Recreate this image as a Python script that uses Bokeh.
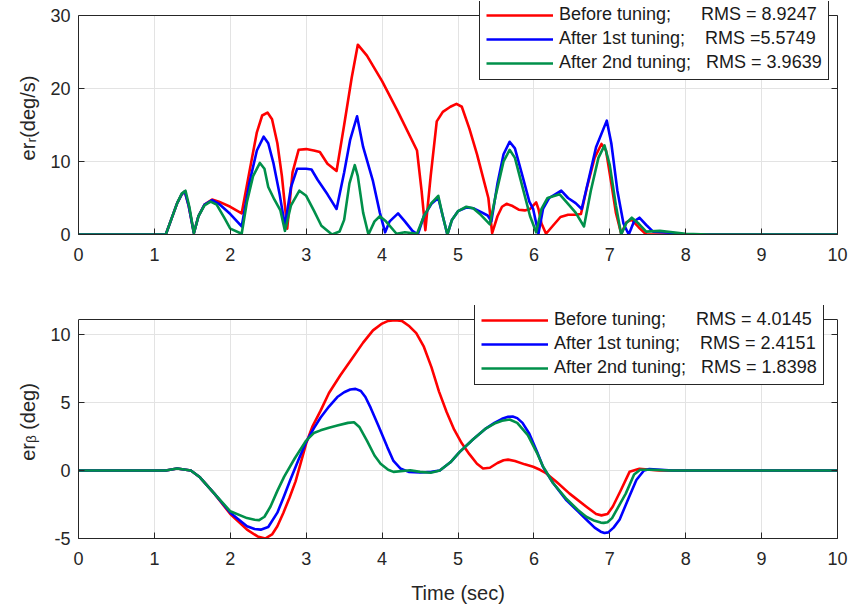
from bokeh.plotting import figure
from bokeh.models import (Legend, LegendItem, FixedTicker, LinearAxis, Range1d, Span)
from bokeh.layouts import column
from bokeh.embed import file_html
from bokeh.resources import INLINE

# ---------------- data ----------------
x_ticks = [0, 1, 2, 3, 4, 5, 6, 7, 8, 9, 10]
top_y_ticks = [0, 10, 20, 30]
bot_y_ticks = [-5, 0, 5, 10]
top_y_lim = (0, 30)
bot_y_lim = (-5, 11.1)

top_labels = ["Before tuning;\u00a0\u00a0\u00a0\u00a0\u00a0\u00a0RMS = 8.9247",
              "After 1st tuning;\u00a0\u00a0\u00a0\u00a0RMS =5.5749",
              "After 2nd tuning;\u00a0\u00a0\u00a0RMS = 3.9639"]
bot_labels = ["Before tuning;\u00a0\u00a0\u00a0\u00a0\u00a0\u00a0RMS = 4.0145",
              "After 1st tuning;\u00a0\u00a0\u00a0\u00a0RMS = 2.4151",
              "After 2nd tuning;\u00a0\u00a0\u00a0RMS = 1.8398"]

# top: er_r (deg/s)
r_before_t = [0, 1.15, 1.22, 1.30, 1.36, 1.40, 1.45, 1.52, 1.58, 1.66, 1.76, 1.85, 2.00, 2.15, 2.25, 2.35, 2.42,
              2.49, 2.55, 2.62, 2.68, 2.75, 2.82, 2.90, 3.00, 3.10, 3.18, 3.28, 3.40, 3.50, 3.60, 3.68, 3.80,
              4.00, 4.20, 4.46, 4.52, 4.57, 4.64, 4.72, 4.80, 4.90, 4.98, 5.05, 5.15, 5.25, 5.35, 5.40, 5.45,
              5.52, 5.58, 5.64, 5.72, 5.80, 5.88, 5.95, 6.03, 6.06, 6.10, 6.16, 6.25, 6.35, 6.45, 6.55, 6.62,
              6.70, 6.80, 6.89, 6.95, 7.02, 7.08, 7.15, 7.22, 7.29, 7.38, 7.48, 10]
r_before_v = [0, 0, 2.0, 4.3, 5.5, 5.9, 4.0, 0.2, 2.5, 4.1, 4.8, 4.5, 3.8, 2.9, 8.5, 14.0, 16.3,
              16.7, 15.8, 12.5, 8.0, 0.8, 8.5, 11.6, 11.7, 11.5, 11.3, 9.7, 8.7, 15.0, 21.5, 26.0, 24.5,
              21.0, 17.0, 11.5, 6.0, 0.6, 8.0, 15.5, 16.8, 17.5, 17.9, 17.5, 14.5, 11.0, 7.0, 5.0, 0.2,
              2.5, 3.8, 4.2, 3.9, 3.4, 3.3, 3.5, 4.4, 3.5, 1.5, 0.1, 1.2, 2.4, 2.7, 2.7, 2.8,
              6.5, 10.5, 12.4, 11.5, 7.0, 3.0, 0.1, 1.7, 2.0, 1.0, 0.0, 0]

r_first_t = [0, 1.15, 1.22, 1.30, 1.36, 1.40, 1.45, 1.52, 1.58, 1.66, 1.76, 1.85, 2.00, 2.15, 2.25, 2.35, 2.44,
             2.50, 2.57, 2.65, 2.72, 2.80, 2.88, 3.00, 3.07, 3.15, 3.28, 3.40, 3.50, 3.58, 3.67, 3.75, 3.88,
             3.97, 4.04, 4.10, 4.21, 4.30, 4.40, 4.47, 4.55, 4.65, 4.74, 4.80, 4.86, 4.92, 5.00, 5.11, 5.20,
             5.30, 5.39, 5.44, 5.52, 5.60, 5.68, 5.75, 5.85, 5.94, 5.99, 6.06, 6.12, 6.20, 6.28, 6.36, 6.45,
             6.55, 6.63, 6.72, 6.82, 6.96, 7.02, 7.10, 7.18, 7.25, 7.32, 7.39, 7.48, 7.57, 7.70, 7.83, 8.0, 10]
r_first_v = [0, 0, 2.0, 4.3, 5.5, 5.9, 4.0, 0.2, 2.5, 4.1, 4.7, 4.2, 2.8, 1.1, 7.0, 11.5, 13.4,
             12.5, 9.7, 5.5, 1.2, 6.5, 9.0, 9.0, 8.9, 7.5, 5.5, 3.5, 8.5, 13.0, 16.2, 12.0, 7.3,
             3.0, 0.3, 1.8, 2.9, 1.8, 0.5, 0.0, 2.5, 4.2, 5.0, 2.5, 0.0, 2.0, 3.2, 3.7, 3.6,
             3.1, 2.6, 1.8, 7.0, 11.0, 12.7, 11.8, 8.0, 4.5, 3.5, 0.1, 3.5, 5.0, 5.5, 6.0, 5.0,
             4.3, 3.5, 7.5, 12.0, 15.6, 12.5, 6.0, 1.5, 0.0, 1.8, 2.3, 1.3, 0.4, 0.3, 0.2, 0.0, 0]

r_second_t = [0, 1.15, 1.22, 1.30, 1.36, 1.41, 1.46, 1.52, 1.58, 1.66, 1.74, 1.82, 1.92, 2.00, 2.15, 2.22, 2.30,
              2.39, 2.45, 2.50, 2.58, 2.66, 2.72, 2.80, 2.91, 3.00, 3.10, 3.20, 3.34, 3.44, 3.50, 3.57, 3.64,
              3.68, 3.75, 3.82, 3.90, 3.97, 4.05, 4.19, 4.30, 4.46, 4.55, 4.65, 4.74, 4.80, 4.86, 4.92, 5.00,
              5.11, 5.20, 5.30, 5.42, 5.50, 5.60, 5.68, 5.75, 5.85, 5.95, 6.03, 6.10, 6.18, 6.34, 6.45, 6.55,
              6.66, 6.75, 6.85, 6.93, 7.00, 7.08, 7.15, 7.22, 7.29, 7.38, 7.48, 7.66, 8.0, 8.3, 10]
r_second_v = [0, 0, 2.0, 4.3, 5.6, 6.0, 3.8, 0.2, 2.5, 4.0, 4.5, 4.1, 2.3, 0.8, 0.1, 4.5, 8.0,
              9.8, 9.0, 6.5, 4.8, 3.3, 0.5, 4.0, 6.0, 5.3, 3.3, 1.2, 0.0, 0.4, 2.0, 7.0, 9.5,
              8.0, 3.0, 0.0, 1.8, 2.5, 1.8, 0.1, 0.3, 0.1, 2.5, 4.3, 5.3, 2.5, 0.0, 2.0, 3.2,
              3.8, 3.6, 2.7, 1.4, 5.5, 10.0, 11.6, 10.5, 6.5, 2.5, 0.3, 3.5, 5.0, 5.5, 4.2, 3.0,
              1.1, 6.0, 10.5, 12.2, 9.5, 4.0, 0.0, 1.6, 2.3, 1.5, 0.4, 0.5, 0.1, 0.0, 0]

# bottom: er_beta (deg)
b_before_t = [0, 1.15, 1.30, 1.48, 1.60, 1.79, 2.00, 2.22, 2.36, 2.46, 2.55, 2.62, 2.70, 2.78, 2.86, 2.93,
              3.00, 3.08, 3.19, 3.30, 3.45, 3.60, 3.75, 3.88, 4.00, 4.08, 4.17, 4.26, 4.36, 4.45, 4.55, 4.65,
              4.75, 4.85, 4.95, 5.05, 5.15, 5.25, 5.33, 5.42, 5.52, 5.60, 5.66, 5.75, 5.88, 5.99, 6.08, 6.16,
              6.30, 6.47, 6.70, 6.82, 6.89, 6.97, 7.04, 7.15, 7.26, 7.39, 7.65, 10]
b_before_v = [0, 0, 0.15, 0, -0.5, -1.7, -3.2, -4.35, -4.85, -5.0, -4.7, -4.1, -3.1, -2.0, -0.8, 0.6,
              2.0, 3.2, 4.4, 5.7, 7.0, 8.2, 9.4, 10.3, 10.8, 11.0, 11.05, 11.0, 10.6, 10.1, 9.1, 7.6,
              5.8, 4.3, 3.0, 2.0, 1.2, 0.5, 0.15, 0.2, 0.55, 0.75, 0.8, 0.7, 0.45, 0.27, 0.05, -0.2,
              -0.85, -1.7, -2.7, -3.2, -3.3, -3.2, -2.65, -1.4, -0.1, 0.12, 0, 0]

b_first_t = [0, 1.15, 1.30, 1.48, 1.60, 1.79, 2.00, 2.22, 2.32, 2.40, 2.50, 2.62, 2.70, 2.79, 2.90, 3.00,
             3.10, 3.19, 3.30, 3.41, 3.50, 3.58, 3.65, 3.72, 3.78, 3.85, 3.95, 4.07, 4.15, 4.24, 4.35, 4.50,
             4.65, 4.76, 4.90, 5.02, 5.20, 5.37, 5.48, 5.58, 5.66, 5.72, 5.78, 5.85, 5.94, 6.04, 6.12, 6.25,
             6.43, 6.58, 6.69, 6.80, 6.88, 6.93, 6.98, 7.05, 7.13, 7.25, 7.35, 7.45, 7.52, 7.83, 10]
b_first_v = [0, 0, 0.15, 0, -0.5, -1.7, -3.1, -4.1, -4.3, -4.35, -4.15, -3.1, -2.0, -0.7, 0.8, 2.1,
             3.1, 3.9, 4.7, 5.4, 5.75, 5.95, 6.0, 5.85, 5.4, 4.6, 3.3, 1.7, 0.7, 0.15, -0.1, -0.15,
             -0.1, 0.0, 0.6, 1.35, 2.3, 3.1, 3.5, 3.8, 3.95, 3.97, 3.85, 3.5, 2.7, 1.4, 0.27, -0.9,
             -2.2, -3.0, -3.6, -4.2, -4.5, -4.6, -4.55, -4.2, -3.6, -2.0, -0.7, 0.0, 0.1, 0, 0]

b_second_t = [0, 1.15, 1.30, 1.48, 1.60, 1.79, 2.00, 2.22, 2.32, 2.38, 2.45, 2.53, 2.62, 2.71, 2.85, 3.00,
              3.10, 3.19, 3.30, 3.41, 3.55, 3.63, 3.70, 3.80, 3.90, 3.98, 4.08, 4.15, 4.37, 4.50, 4.64, 4.76,
              4.90, 5.02, 5.20, 5.37, 5.48, 5.58, 5.68, 5.78, 5.92, 6.04, 6.12, 6.25, 6.43, 6.58, 6.69, 6.80,
              6.88, 6.92, 6.97, 7.03, 7.10, 7.21, 7.32, 7.40, 7.55, 7.8, 10]
b_second_v = [0, 0, 0.15, 0, -0.5, -1.7, -3.0, -3.5, -3.62, -3.65, -3.4, -2.65, -1.5, -0.45, 0.9, 2.2,
              2.75, 2.95, 3.15, 3.3, 3.5, 3.55, 3.2, 2.2, 1.1, 0.5, 0.05, -0.1, 0.02, -0.1, -0.17, 0.0,
              0.6, 1.35, 2.3, 3.1, 3.45, 3.65, 3.75, 3.5, 2.6, 1.3, 0.3, -0.9, -2.1, -2.9, -3.4, -3.7,
              -3.83, -3.85, -3.8, -3.5, -2.8, -1.7, -0.3, 0.05, 0.05, 0, 0]

colors = ["#ff0000", "#0000ff", "#00904a"]
FONT = "Liberation Sans"
DARK = "#262626"
BOX_H = 219      # visible axes box height (px)
HEADROOM = 14    # extra px above the box where the legend overhangs


def make_fig(height, border_top, border_bottom, y_lim, y_ticks, y_label, x_label):
    y0, y1 = y_lim
    px_per_unit = BOX_H / (y1 - y0)
    y_top = y1 + HEADROOM / px_per_unit
    p = figure(width=850, height=height, output_backend="svg", toolbar_location=None,
               x_range=Range1d(0, 10), y_range=Range1d(y0, y_top),
               min_border_left=78, min_border_right=13,
               min_border_top=border_top, min_border_bottom=border_bottom)
    p.background_fill_color = "white"
    p.border_fill_color = "white"
    p.outline_line_color = None
    for ax, ticks in ((p.xaxis[0], x_ticks), (p.yaxis[0], y_ticks)):
        ax.ticker = FixedTicker(ticks=ticks)
        ax.major_tick_in = 6
        ax.major_tick_out = 0
        ax.minor_tick_line_color = None
        ax.axis_line_color = DARK
        ax.major_tick_line_color = DARK
        ax.major_label_text_font = FONT
        ax.major_label_text_font_size = "18px"
        ax.major_label_text_color = DARK
        ax.axis_label_text_font = FONT
        ax.axis_label_text_font_size = "20px"
        ax.axis_label_text_font_style = "normal"
        ax.axis_label_text_color = DARK
    p.yaxis[0].bounds = (y0, y1)
    p.yaxis[0].major_label_overrides = {t: str(t) for t in y_ticks}
    p.xaxis[0].major_label_standoff = 13
    p.yaxis[0].major_label_standoff = 8
    p.yaxis[0].axis_label = y_label
    p.yaxis[0].axis_label_standoff = 8
    if x_label:
        p.xaxis[0].axis_label = x_label
        p.xaxis[0].axis_label_standoff = 14
    # mirrored ticks on the right (labels not painted)
    rax = LinearAxis(ticker=FixedTicker(ticks=y_ticks), bounds=(y0, y1),
                     major_tick_in=6, major_tick_out=0,
                     minor_tick_line_color=None, axis_line_color=DARK,
                     major_tick_line_color=DARK, major_label_text_font_size="1px",
                     major_label_text_color=None, major_label_standoff=0)
    p.add_layout(rax, "right")
    p.xgrid.ticker = FixedTicker(ticks=x_ticks)
    p.ygrid.ticker = FixedTicker(ticks=y_ticks)
    p.xgrid.cross_bounds = (y0, y1)
    p.grid.grid_line_color = "#e3e3e3"
    p.grid.grid_line_width = 1
    # top edge of the axes box
    p.add_layout(Span(location=y1, dimension="width", line_color=DARK, line_width=1))
    return p


def add_legend(p, renderers, labels, loc):
    items = [LegendItem(label=l, renderers=[r]) for l, r in zip(labels, renderers)]
    lg = Legend(items=items, location=loc, orientation="vertical",
                label_text_font=FONT, label_text_font_size="18px", label_text_color="#1a1a1a",
                glyph_width=67, glyph_height=20, label_height=20, label_standoff=6,
                padding=6, spacing=3, margin=0,
                border_line_color=DARK, border_line_width=1, border_line_alpha=1,
                background_fill_color="white", background_fill_alpha=1)
    p.add_layout(lg, "center")


p1 = make_fig(300, 1, 66, top_y_lim, top_y_ticks, "er\u1d63(deg/s)", None)
rs1 = []
for (t, v), c in zip([(r_before_t, r_before_v), (r_first_t, r_first_v), (r_second_t, r_second_v)], colors):
    rs1.append(p1.line(t, v, line_color=c, line_width=2.6, line_join="round"))
add_legend(p1, rs1, top_labels, (401, 154))

p2 = make_fig(307, 5, 69, bot_y_lim, bot_y_ticks, "er\u1d66 (deg)", "Time (sec)")
rs2 = []
for (t, v), c in zip([(b_before_t, b_before_v), (b_first_t, b_first_v), (b_second_t, b_second_v)], colors):
    rs2.append(p2.line(t, v, line_color=c, line_width=2.6, line_join="round"))
add_legend(p2, rs2, bot_labels, (396, 153))

layout = column(p1, p2, spacing=0)
open("out.html", "w").write(file_html(layout, INLINE))
